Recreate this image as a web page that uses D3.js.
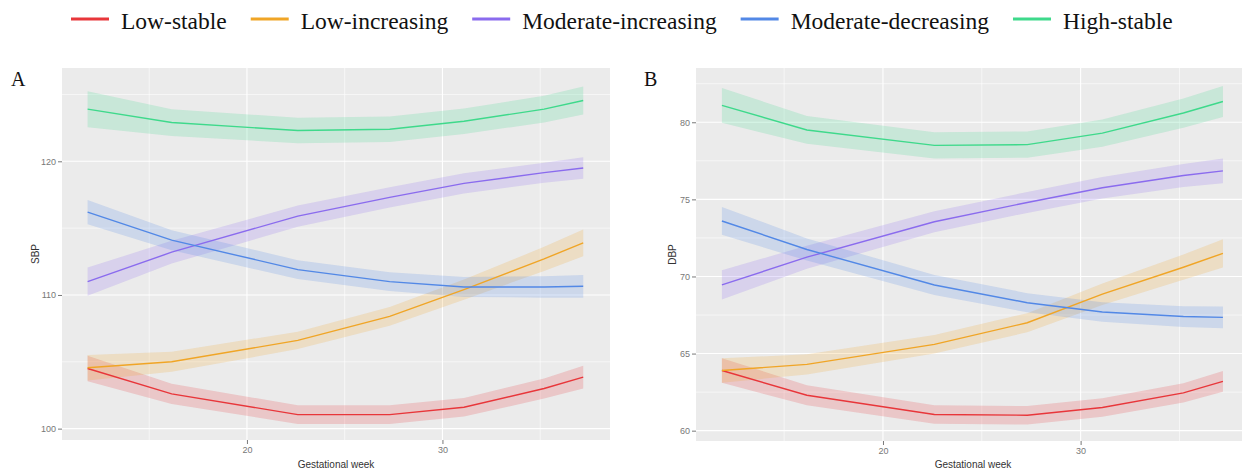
<!DOCTYPE html>
<html>
<head>
<meta charset="utf-8">
<script src="https://cdn.jsdelivr.net/npm/d3@7"></script>
<style>
  body { margin: 0; background: #fff; }
  svg { display: block; }
</style>
</head>
<body>
<script>
// gestational weeks of the fitted points
var weeks = [11.85, 16.15, 22.6, 27.3, 31.1, 35.2, 37.2];

var groups = ["Low-stable", "Low-increasing", "Moderate-increasing", "Moderate-decreasing", "High-stable"];
var colors = ["#E8363A", "#F0A526", "#8A6BEE", "#5288E6", "#3ED98B"];

// SBP trajectories (panel A)
var sbpLowStable   = [104.5, 102.6, 101.05, 101.05, 101.6, 103.0, 103.85];
var sbpLowInc      = [104.55, 105.0, 106.6, 108.4, 110.4, 112.7, 113.9];
var sbpModInc      = [111.0, 113.2, 115.9, 117.3, 118.35, 119.15, 119.5];
var sbpModDec      = [116.2, 114.1, 111.9, 111.0, 110.6, 110.6, 110.65];
var sbpHighStable  = [123.9, 122.9, 122.3, 122.4, 123.0, 123.9, 124.55];

// SBP confidence half-widths
var ciSbpLowStable  = [0.95, 0.75, 0.7, 0.7, 0.7, 0.75, 0.85];
var ciSbpLowInc     = [0.95, 0.75, 0.65, 0.7, 0.75, 0.9, 1.0];
var ciSbpModInc     = [1.05, 0.85, 0.8, 0.75, 0.75, 0.75, 0.8];
var ciSbpModDec     = [0.9, 0.75, 0.7, 0.7, 0.75, 0.8, 0.85];
var ciSbpHighStable = [1.35, 1.0, 0.95, 0.95, 0.95, 1.0, 1.05];

// DBP trajectories (panel B)
var dbpLowStable   = [63.9, 62.3, 61.05, 61.0, 61.5, 62.45, 63.2];
var dbpLowInc      = [63.9, 64.3, 65.6, 67.0, 68.85, 70.6, 71.5];
var dbpModInc      = [69.45, 71.25, 73.55, 74.8, 75.75, 76.55, 76.85];
var dbpModDec      = [73.6, 71.75, 69.45, 68.3, 67.7, 67.4, 67.35];
var dbpHighStable  = [81.1, 79.5, 78.5, 78.55, 79.3, 80.6, 81.35];

var ciDbpLowStable  = [0.8, 0.65, 0.6, 0.6, 0.6, 0.62, 0.67];
var ciDbpLowInc     = [0.8, 0.65, 0.6, 0.62, 0.7, 0.82, 0.92];
var ciDbpModInc     = [0.95, 0.75, 0.68, 0.68, 0.7, 0.75, 0.8];
var ciDbpModDec     = [0.9, 0.72, 0.65, 0.62, 0.63, 0.67, 0.7];
var ciDbpHighStable = [1.13, 0.9, 0.85, 0.85, 0.88, 0.95, 1.0];

var xTicks = [20, 30];
var xMinor = [15, 25, 35];
var sbpTicks = [100, 110, 120];
var sbpMinor = [105, 115, 125];
var dbpTicks = [60, 65, 70, 75, 80];
var dbpMinor = [62.5, 67.5, 72.5, 77.5, 82.5];

var W = 1242, H = 472;

var svg = d3.select("body").append("svg")
  .attr("width", W)
  .attr("height", H);

var panels = [
  { letter: "A", ytitle: "SBP", left: 62, right: 610, top: 68, bottom: 440,
    ydomain: [99.15, 126.98], ticks: sbpTicks, minor: sbpMinor,
    values: [sbpLowStable, sbpLowInc, sbpModInc, sbpModDec, sbpHighStable],
    ci: [ciSbpLowStable, ciSbpLowInc, ciSbpModInc, ciSbpModDec, ciSbpHighStable],
    letterX: 11, ytitleX: 35 },
  { letter: "B", ytitle: "DBP", left: 696, right: 1250, top: 68, bottom: 441,
    ydomain: [59.33, 83.52], ticks: dbpTicks, minor: dbpMinor,
    values: [dbpLowStable, dbpLowInc, dbpModInc, dbpModDec, dbpHighStable],
    ci: [ciDbpLowStable, ciDbpLowInc, ciDbpModInc, ciDbpModDec, ciDbpHighStable],
    letterX: 644, ytitleX: 672 }
];

panels.forEach(function(p, pi) {
  var x = d3.scaleLinear().domain([10.54, 38.57]).range([p.left, p.right]);
  var y = d3.scaleLinear().domain(p.ydomain).range([p.bottom, p.top]);

  var g = svg.append("g");

  g.append("rect")
    .attr("x", p.left).attr("y", p.top)
    .attr("width", p.right - p.left).attr("height", p.bottom - p.top)
    .attr("fill", "#EBEBEB");

  // grid lines
  g.selectAll(".hminor").data(p.minor).enter().append("line")
    .attr("x1", p.left).attr("x2", p.right)
    .attr("y1", function(d) { return y(d); }).attr("y2", function(d) { return y(d); })
    .attr("stroke", "#fff").attr("stroke-width", 0.6);
  g.selectAll(".vminor").data(xMinor).enter().append("line")
    .attr("y1", p.top).attr("y2", p.bottom)
    .attr("x1", function(d) { return x(d); }).attr("x2", function(d) { return x(d); })
    .attr("stroke", "#fff").attr("stroke-width", 0.6);
  g.selectAll(".hmajor").data(p.ticks).enter().append("line")
    .attr("x1", p.left).attr("x2", p.right)
    .attr("y1", function(d) { return y(d); }).attr("y2", function(d) { return y(d); })
    .attr("stroke", "#fff").attr("stroke-width", 1.1);
  g.selectAll(".vmajor").data(xTicks).enter().append("line")
    .attr("y1", p.top).attr("y2", p.bottom)
    .attr("x1", function(d) { return x(d); }).attr("x2", function(d) { return x(d); })
    .attr("stroke", "#fff").attr("stroke-width", 1.1);

  var area = d3.area()
    .x(function(d) { return x(d.w); })
    .y0(function(d) { return y(d.v - d.c); })
    .y1(function(d) { return y(d.v + d.c); });
  var line = d3.line()
    .x(function(d) { return x(d.w); })
    .y(function(d) { return y(d.v); });

  var series = groups.map(function(name, i) {
    return weeks.map(function(w, j) {
      return { w: w, v: p.values[i][j], c: p.ci[i][j] };
    });
  });

  g.selectAll(".band").data(series).enter().append("path")
    .attr("d", area)
    .attr("fill", function(d, i) { return colors[i]; })
    .attr("fill-opacity", 0.2);

  g.selectAll(".trend").data(series).enter().append("path")
    .attr("d", line)
    .attr("fill", "none")
    .attr("stroke", function(d, i) { return colors[i]; })
    .attr("stroke-width", 1.4);

  // axes
  var yAxis = g.append("g")
    .attr("transform", "translate(" + p.left + ",0)")
    .call(d3.axisLeft(y).tickValues(p.ticks).tickSize(4).tickPadding(2));
  var xAxis = g.append("g")
    .attr("transform", "translate(0," + p.bottom + ")")
    .call(d3.axisBottom(x).tickValues(xTicks).tickSize(4).tickPadding(3));
  [yAxis, xAxis].forEach(function(a) {
    a.select(".domain").remove();
    a.selectAll("line").attr("stroke", "#555").attr("stroke-width", 0.8);
    a.selectAll("text")
      .attr("fill", "#777")
      .style("font-family", "Liberation Sans, Arial, sans-serif")
      .style("font-size", "9px");
  });

  g.append("text")
    .attr("x", (p.left + p.right) / 2)
    .attr("y", 468)
    .attr("text-anchor", "middle")
    .attr("fill", "#333")
    .style("font-family", "Liberation Sans, Arial, sans-serif")
    .style("font-size", "10px")
    .text("Gestational week");

  g.append("text")
    .attr("transform", "translate(" + p.ytitleX + "," + ((p.top + p.bottom) / 2) + ") rotate(-90)")
    .attr("text-anchor", "middle")
    .attr("dy", "0.35em")
    .attr("fill", "#333")
    .style("font-family", "Liberation Sans, Arial, sans-serif")
    .style("font-size", "10px")
    .text(p.ytitle);

  svg.append("text")
    .attr("x", p.letterX)
    .attr("y", 86)
    .attr("fill", "#111")
    .style("font-family", "Liberation Serif, Times New Roman, serif")
    .style("font-size", "20px")
    .text(p.letter);
});

// legend
var legend = svg.append("g");
var lx = 71;
groups.forEach(function(name, i) {
  legend.append("line")
    .attr("x1", lx).attr("x2", lx + 38)
    .attr("y1", 19).attr("y2", 19)
    .attr("stroke", colors[i])
    .attr("stroke-width", 3);
  var t = legend.append("text")
    .attr("x", lx + 50)
    .attr("y", 29)
    .attr("fill", "#111")
    .style("font-family", "Liberation Serif, Times New Roman, serif")
    .style("font-size", "23.5px")
    .text(name);
  lx += 50 + t.node().getComputedTextLength() + 24;
});
</script>
</body>
</html>
